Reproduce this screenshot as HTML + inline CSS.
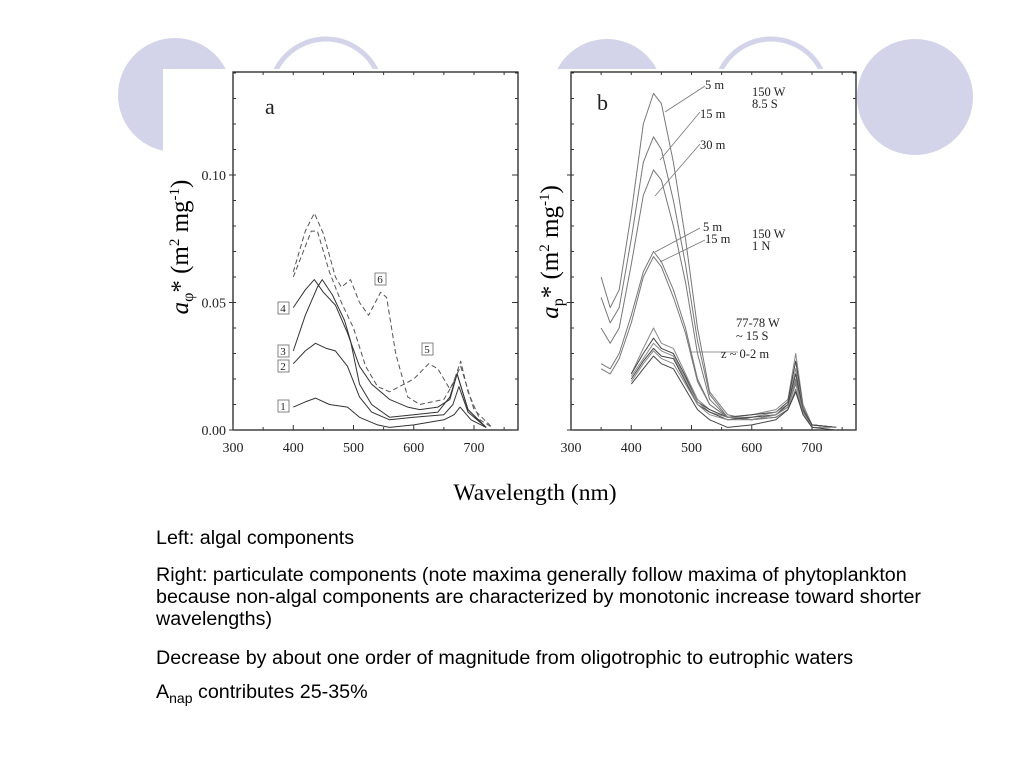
<!DOCTYPE html>
<html><head><meta charset="utf-8"><style>
body{margin:0;background:#fff;width:1024px;height:768px;overflow:hidden;position:relative;font-family:"Liberation Sans",sans-serif}
svg{position:absolute;left:0;top:0}
.txt{position:absolute;left:156px;font-size:19.7px;color:#000;line-height:22px;width:790px}
</style></head><body>
<svg width="1024" height="768">
<g>
<circle cx="175" cy="95" r="57" fill="#d3d3ea"/>
<circle cx="326" cy="95" r="56" fill="none" stroke="#d3d3ea" stroke-width="5"/>
<circle cx="607" cy="95" r="56" fill="#d3d3ea"/>
<circle cx="771" cy="95" r="56" fill="none" stroke="#d3d3ea" stroke-width="5"/>
<circle cx="915" cy="97" r="58" fill="#d3d3ea"/>
<rect x="163" y="69" width="694" height="700" fill="#fff"/>
</g>
<g id="chartA"></g>
<g id="chartB"></g>
<text x="535" y="500" font-family="Liberation Serif" font-size="23.5" text-anchor="middle">Wavelength (nm)</text>
<text transform="translate(188,247) rotate(-90)" font-family="Liberation Serif" font-size="25" text-anchor="middle"><tspan font-style="italic">a</tspan><tspan font-size="16" dy="5">φ</tspan><tspan dy="-5">* (m</tspan><tspan font-size="15" dy="-9">2</tspan><tspan dy="9"> mg</tspan><tspan font-size="15" dy="-9">-1</tspan><tspan dy="9">)</tspan></text>
<text transform="translate(558,252) rotate(-90)" font-family="Liberation Serif" font-size="25" text-anchor="middle"><tspan font-style="italic">a</tspan><tspan font-size="16" dy="5">p</tspan><tspan dy="-5">* (m</tspan><tspan font-size="15" dy="-9">2</tspan><tspan dy="9"> mg</tspan><tspan font-size="15" dy="-9">-1</tspan><tspan dy="9">)</tspan></text>
</svg>
<div class="txt" style="top:527px">Left: algal components</div>
<div class="txt" style="top:564px">Right: particulate components (note maxima generally follow maxima of phytoplankton because non-algal components are characterized by monotonic increase toward shorter wavelengths)</div>
<div class="txt" style="top:647px">Decrease by about one order of magnitude from oligotrophic to eutrophic waters</div>
<div class="txt" style="top:681px">A<sub style="font-size:14px">nap</sub> contributes 25-35%</div>
<script>
const xTicks=[300,400,500,600,700];
const yTicksA=["0.00","0.05","0.10"];
const wlA1=[400,420,437,460,490,510,540,560,600,650,667,677,695,720];
const vA1=[0.009,0.011,0.0125,0.010,0.009,0.005,0.002,0.001,0.002,0.004,0.006,0.009,0.004,0.001];
const wlA2=[400,420,437,455,470,490,510,530,560,600,650,665,675,690,720];
const vA2=[0.026,0.031,0.034,0.032,0.031,0.025,0.013,0.007,0.004,0.005,0.006,0.010,0.017,0.007,0.001];
const wlA3=[400,420,440,448,465,485,495,510,530,560,600,640,660,672,690,720];
const vA3=[0.031,0.045,0.056,0.059,0.053,0.043,0.035,0.018,0.010,0.005,0.006,0.007,0.013,0.022,0.008,0.001];
const wlA4=[400,420,435,450,470,490,510,530,560,590,610,640,660,672,690,720];
const vA4=[0.048,0.055,0.059,0.054,0.049,0.038,0.025,0.018,0.012,0.009,0.008,0.009,0.012,0.022,0.008,0.001];
const wlA5=[400,430,440,460,480,500,520,540,560,600,625,640,660,678,700,730];
const vA5=[0.060,0.078,0.078,0.062,0.050,0.040,0.025,0.017,0.015,0.020,0.026,0.024,0.016,0.025,0.008,0.001];
const wlA6=[400,420,435,450,470,480,495,510,525,545,555,570,590,610,630,650,665,678,690,710,730];
const vA6=[0.062,0.078,0.085,0.077,0.060,0.056,0.059,0.050,0.045,0.054,0.052,0.030,0.013,0.010,0.011,0.012,0.018,0.027,0.015,0.004,0.001];
const wlB=[350,365,380,400,420,437,450,470,490,510,530,560,600,640,660,673,685,700,740];
const vB5m=[0.060,0.048,0.055,0.085,0.120,0.132,0.128,0.105,0.075,0.040,0.015,0.006,0.004,0.006,0.009,0.020,0.008,0.002,0.001];
const vB15m=[0.052,0.042,0.048,0.075,0.105,0.115,0.110,0.090,0.065,0.035,0.014,0.005,0.004,0.006,0.009,0.019,0.008,0.002,0.001];
const vB30m=[0.040,0.034,0.040,0.065,0.092,0.102,0.098,0.080,0.058,0.030,0.012,0.005,0.004,0.006,0.009,0.018,0.008,0.002,0.001];
const vB1N5=[0.026,0.024,0.030,0.045,0.062,0.070,0.066,0.055,0.040,0.020,0.010,0.005,0.004,0.005,0.008,0.016,0.007,0.002,0.001];
const vB1N15=[0.024,0.022,0.028,0.042,0.060,0.068,0.064,0.052,0.038,0.019,0.010,0.005,0.004,0.005,0.008,0.015,0.007,0.002,0.001];
const wlC=[400,420,437,450,470,490,510,530,560,600,640,660,673,685,700,740];
const vC1=[0.022,0.032,0.040,0.034,0.032,0.022,0.012,0.008,0.005,0.006,0.008,0.012,0.030,0.010,0.002,0.001];
const vC2=[0.022,0.030,0.036,0.032,0.030,0.021,0.011,0.008,0.005,0.006,0.007,0.011,0.027,0.009,0.002,0.001];
const vC3=[0.021,0.028,0.034,0.031,0.029,0.020,0.011,0.007,0.005,0.005,0.007,0.010,0.024,0.009,0.002,0.001];
const vC4=[0.020,0.027,0.032,0.029,0.028,0.019,0.010,0.007,0.004,0.005,0.006,0.010,0.022,0.008,0.002,0.001];
const vC5=[0.019,0.026,0.031,0.028,0.026,0.018,0.010,0.006,0.004,0.004,0.006,0.009,0.019,0.007,0.001,0.001];
const vC6=[0.018,0.024,0.029,0.026,0.024,0.016,0.008,0.004,0.001,0.002,0.004,0.008,0.015,0.006,0.001,0.000];
const NS="http://www.w3.org/2000/svg";
function mk(tag,attrs,parent){const e=document.createElementNS(NS,tag);for(const k in attrs)e.setAttribute(k,attrs[k]);parent.appendChild(e);return e;}
function makeChart(g,left,showY){
  const top=72,bottom=430,right=left+285;
  const sx=w=>left+(w-300)*0.6025;
  const sy=v=>bottom-v*2550;
  const box=mk('rect',{x:left,y:top,width:right-left,height:bottom-top,fill:'none',stroke:'#222','stroke-width':1.3},g);
  
  
  for(let w=300;w<=750;w+=50){
    const t=mk('line',{x1:sx(w),x2:sx(w),y1:bottom,y2:bottom-(w%100?3:5),stroke:'#333'},g);
    
    
    mk('line',{x1:sx(w),x2:sx(w),y1:top,y2:top+3,stroke:'#333'},g);
  }
  for(let i=0;i<=14;i++){
    const y=sy(i*0.01),len=(i%5)?3:6;
    mk('line',{x1:left-(i%5?0:4),x2:left+3,y1:y,y2:y,stroke:'#333'},g);
    mk('line',{x1:right-len,x2:right,y1:y,y2:y,stroke:'#333'},g);
  }
  xTicks.forEach(w=>{
    const t=mk('text',{x:sx(w),y:452,'font-family':'Liberation Serif','font-size':14,'text-anchor':'middle',fill:'#222'},g);
    t.textContent=w;
    
    
  });
  if(showY) yTicksA.forEach(s=>{
    const t=mk('text',{x:left-7,y:sy(parseFloat(s))+5,'font-family':'Liberation Serif','font-size':14,'text-anchor':'end',fill:'#222'},g);
    t.textContent=s;
    
    
  });
  return {sx,sy};
}
function curve(g,ax,wl,vals,dash,name,color){
  const d=wl.map((w,i)=>(i?'L':'M')+ax.sx(w).toFixed(1)+','+ax.sy(vals[i]).toFixed(1)).join(' ');
  const p=mk('path',{d:d,fill:'none',stroke:color||'#333','stroke-width':1,'stroke-linejoin':'round'},g);
  if(dash)p.setAttribute('stroke-dasharray','5,3');
  
  
}
function label(g,x,y,txt,name,boxed,size){
  if(boxed){mk('rect',{x:x-5,y:y-10,width:11,height:12,fill:'#fff',stroke:'#666','stroke-width':0.8},g);}
  const t=mk('text',{x:x,y:y,'font-family':'Liberation Serif','font-size':size||11,'text-anchor':boxed?'middle':'start',fill:'#222'},g);
  t.textContent=txt;
  
  
}
const gA=document.getElementById('chartA'),gB=document.getElementById('chartB');
const A=makeChart(gA,233,true);
curve(gA,A,wlA1,vA1,false,'curve-1');
curve(gA,A,wlA2,vA2,false,'curve-2');
curve(gA,A,wlA3,vA3,false,'curve-3');
curve(gA,A,wlA4,vA4,false,'curve-4');
curve(gA,A,wlA5,vA5,true,'curve-5','#555');
curve(gA,A,wlA6,vA6,true,'curve-6','#555');
label(gA,283,410,'1','label-1',true);label(gA,283,370,'2','label-2',true);label(gA,283,355,'3','label-3',true);
label(gA,283,312,'4','label-4',true);label(gA,427,353,'5','label-5',true);label(gA,380,283,'6','label-6',true);
label(gA,265,114,'a','panel-a-label',false,22);
const B=makeChart(gB,571,false);
curve(gB,B,wlB,vB5m,false,'curve-150w-8s-5m','#777');
curve(gB,B,wlB,vB15m,false,'curve-150w-8s-15m','#777');
curve(gB,B,wlB,vB30m,false,'curve-150w-8s-30m','#777');
curve(gB,B,wlB,vB1N5,false,'curve-150w-1n-5m','#777');
curve(gB,B,wlB,vB1N15,false,'curve-150w-1n-15m','#777');
[vC1,vC2,vC3,vC4,vC5,vC6].forEach((v,i)=>curve(gB,B,wlC,v,false,'curve-77w-'+(i+1),i%2?'#444':'#888'));
label(gB,597,110,'b','panel-b-label',false,22);
const leaders=[[665,112,705,86],[660,160,700,112],[655,196,700,144],[655,252,700,228],[660,262,705,240],[690,352,738,352]];
leaders.forEach(l=>{const e=mk('line',{x1:l[0],y1:l[1],x2:l[2],y2:l[3],stroke:'#777','stroke-width':0.8},gB);});
label(gB,705,89,'5 m','label-5m',false,12.5);label(gB,700,118,'15 m','label-15m',false,12.5);label(gB,700,149,'30 m','label-30m',false,12.5);
label(gB,752,96,'150 W','label-150w-a',false,12.5);label(gB,752,108,'8.5 S','label-85s',false,12.5);
label(gB,703,231,'5 m','label-5m-b',false,12.5);label(gB,705,243,'15 m','label-15m-b',false,12.5);
label(gB,752,238,'150 W','label-150w-b',false,12.5);label(gB,752,250,'1 N','label-1n',false,12.5);
label(gB,736,327,'77-78 W','label-77w',false,12.5);label(gB,736,340,'~ 15 S','label-15s',false,12.5);label(gB,721,358,'z ~ 0-2 m','label-z',false,12.5);
</script>
</body></html>
